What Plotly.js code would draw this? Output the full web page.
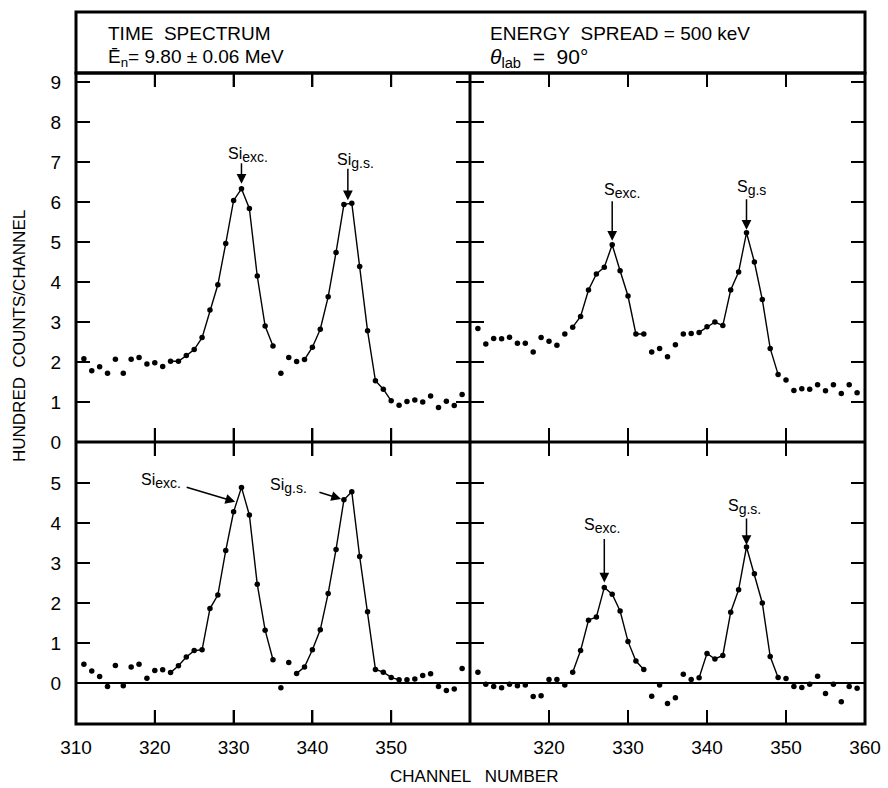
<!DOCTYPE html>
<html><head><meta charset="utf-8">
<script src="https://cdn.plot.ly/plotly-3.0.1.min.js"></script>
<style>html,body{margin:0;padding:0;background:#fff;} #chart{width:888px;height:788px;}</style>
</head><body><div id="chart"></div>
<script>
// ---- data (hundred counts per channel) ----
const channels = [311,312,313,314,315,316,317,318,319,320,321,322,323,324,325,326,327,328,329,330,
  331,332,333,334,335,336,337,338,339,340,341,342,343,344,345,346,347,348,349,350,
  351,352,353,354,355,356,357,358,359];
const siTotal = [2.08,1.78,1.88,1.72,2.07,1.72,2.07,2.11,1.95,1.98,
  1.89,2.02,2.02,2.16,2.31,2.61,3.30,3.93,4.96,6.04,
  6.33,5.84,4.15,2.90,2.40,1.72,2.11,2.01,2.06,2.37,
  2.82,3.63,4.74,5.94,5.97,4.39,2.78,1.53,1.32,1.03,
  0.92,1.01,1.05,1.00,1.15,0.86,1.02,0.91,1.19];
const sTotal = [2.84,2.45,2.59,2.58,2.62,2.47,2.47,2.25,2.61,2.52,
  2.42,2.70,2.87,3.14,3.80,4.20,4.37,4.93,4.28,3.65,
  2.70,2.70,2.25,2.34,2.13,2.43,2.70,2.71,2.74,2.88,
  3.00,2.91,3.80,4.25,5.23,4.50,3.56,2.34,1.69,1.55,
  1.29,1.33,1.32,1.43,1.28,1.43,1.21,1.43,1.23];
const siNet = [0.47,0.30,0.16,-0.09,0.44,-0.07,0.40,0.47,0.12,0.31,
  0.33,0.26,0.43,0.65,0.81,0.83,1.86,2.20,3.31,4.28,
  4.89,4.20,2.47,1.32,0.58,-0.12,0.51,0.24,0.40,0.83,
  1.33,2.24,3.34,4.58,4.78,3.16,1.78,0.34,0.27,0.14,
  0.08,0.08,0.10,0.19,0.23,-0.09,-0.19,-0.15,0.36];
const sNet = [0.27,-0.03,-0.09,-0.12,-0.03,-0.07,-0.05,-0.34,-0.32,0.09,
  0.09,-0.05,0.27,0.81,1.57,1.65,2.39,2.22,1.80,1.04,
  0.55,0.34,-0.33,-0.05,-0.51,-0.37,0.22,0.09,0.13,0.74,
  0.60,0.69,1.77,2.33,3.40,2.73,2.00,0.66,0.14,0.11,
  -0.09,-0.11,-0.03,0.17,-0.26,-0.03,-0.47,-0.09,-0.13];
// channel ranges joined by a drawn line
const siTotalSegments = [[322,335],[339,350]];
const sTotalSegments = [[323,332],[339,349]];
const siNetSegments = [[322,335],[338,351]];
const sNetSegments = [[323,332],[339,349]];
// tick labels
const xTickVals = [310,320,330,340,350,360];
const xTickTextLeft = ['310','320','330','340','350',''];
const xTickTextRight = ['','320','330','340','350','360'];
const yTickTop = [0,1,2,3,4,5,6,7,8,9];
const yTickBottom = [0,1,2,3,4,5];

// ---- helpers ----
const W = 888, H = 788;
const px = v => v / W;
const py = v => 1 - v / H;
const FONT = 'Liberation Sans, Arial, sans-serif';

function segLine(vals, segs) {
  return channels.map((c, i) => segs.some(s => c >= s[0] && c <= s[1]) ? vals[i] : null);
}
function peakIdx(vals, lo, hi) {
  let best = -1;
  channels.forEach((c, i) => { if (c >= lo && c <= hi && (best < 0 || vals[i] > vals[best])) best = i; });
  return best;
}

const panels = [
  {vals: siTotal, segs: siTotalSegments, xa: 'x', ya: 'y'},
  {vals: sTotal, segs: sTotalSegments, xa: 'x2', ya: 'y2'},
  {vals: siNet, segs: siNetSegments, xa: 'x3', ya: 'y3'},
  {vals: sNet, segs: sNetSegments, xa: 'x4', ya: 'y4'}
];
const traces = [];
panels.forEach(p => {
  traces.push({x: channels, y: segLine(p.vals, p.segs), xaxis: p.xa, yaxis: p.ya,
    mode: 'lines', connectgaps: false, line: {color: '#000', width: 1.4}, hoverinfo: 'skip'});
  traces.push({x: channels, y: p.vals, xaxis: p.xa, yaxis: p.ya,
    mode: 'markers', marker: {color: '#000', size: 5.5}, hoverinfo: 'skip'});
});

const axBase = {showline: false, mirror: 'ticks',
  ticks: 'inside', ticklen: 14, tickwidth: 2, tickcolor: 'black', showgrid: false,
  zeroline: false, tickfont: {family: FONT, size: 19, color: '#000'}, fixedrange: true};
const L = 76, M = 470, R = 865, T = 73, MID = 442, B = 724;
const xLeft = [px(L), px(M)], xRight = [px(M), px(R)];
const yTop = [py(MID), py(T)], yBot = [py(B), py(MID)];
const xRange = [310, 360], yRangeTop = [0, 9.225], yRangeBot = [-1.025, 6.025];

const layout = {
  width: W, height: H, margin: {l: 0, r: 0, t: 0, b: 0},
  paper_bgcolor: '#fff', plot_bgcolor: '#fff', showlegend: false,
  xaxis: Object.assign({}, axBase, {domain: xLeft, range: xRange, anchor: 'y',
    tickmode: 'array', tickvals: xTickVals, showticklabels: false}),
  xaxis2: Object.assign({}, axBase, {domain: xRight, range: xRange, anchor: 'y2',
    tickmode: 'array', tickvals: xTickVals, showticklabels: false}),
  xaxis3: Object.assign({}, axBase, {domain: xLeft, range: xRange, anchor: 'y3',
    tickmode: 'array', tickvals: xTickVals, ticktext: xTickTextLeft, ticklabelstandoff: 10}),
  xaxis4: Object.assign({}, axBase, {domain: xRight, range: xRange, anchor: 'y4',
    tickmode: 'array', tickvals: xTickVals, ticktext: xTickTextRight, ticklabelstandoff: 10}),
  yaxis: Object.assign({}, axBase, {domain: yTop, range: yRangeTop, anchor: 'x',
    tickmode: 'array', tickvals: yTickTop, ticklabelstandoff: 14}),
  yaxis2: Object.assign({}, axBase, {domain: yTop, range: yRangeTop, anchor: 'x2',
    tickmode: 'array', tickvals: yTickTop, showticklabels: false}),
  yaxis3: Object.assign({}, axBase, {domain: yBot, range: yRangeBot, anchor: 'x3',
    tickmode: 'array', tickvals: yTickBottom, ticklabelstandoff: 14,
    zeroline: true, zerolinecolor: '#000', zerolinewidth: 2}),
  yaxis4: Object.assign({}, axBase, {domain: yBot, range: yRangeBot, anchor: 'x4',
    tickmode: 'array', tickvals: yTickBottom, showticklabels: false,
    zeroline: true, zerolinecolor: '#000', zerolinewidth: 2}),
  shapes: [
    {type: 'rect', xref: 'paper', yref: 'paper', x0: px(L), x1: px(R), y0: py(T), y1: py(12),
     line: {color: '#000', width: 3}, fillcolor: 'rgba(0,0,0,0)'},
    {type: 'rect', xref: 'paper', yref: 'paper', x0: px(L), x1: px(R), y0: py(B), y1: py(T),
     line: {color: '#000', width: 3}, fillcolor: 'rgba(0,0,0,0)'},
    {type: 'line', xref: 'paper', yref: 'paper', x0: px(M), x1: px(M), y0: py(B), y1: py(T),
     line: {color: '#000', width: 3}},
    {type: 'line', xref: 'paper', yref: 'paper', x0: px(L), x1: px(R), y0: py(MID), y1: py(MID),
     line: {color: '#000', width: 3}}
  ],
  annotations: []
};

// inward tick marks on all four sides of every panel, placed through each panel's axes
const TICK = 14;
const panelAxes = [
  {xa: 'x', ya: 'y', xd: xLeft, yd: yTop, yr: yRangeTop, yt: yTickTop},
  {xa: 'x2', ya: 'y2', xd: xRight, yd: yTop, yr: yRangeTop, yt: yTickTop},
  {xa: 'x3', ya: 'y3', xd: xLeft, yd: yBot, yr: yRangeBot, yt: yTickBottom},
  {xa: 'x4', ya: 'y4', xd: xRight, yd: yBot, yr: yRangeBot, yt: yTickBottom}
];
panelAxes.forEach(p => {
  const wpx = (p.xd[1] - p.xd[0]) * W, hpx = (p.yd[1] - p.yd[0]) * H;
  const dx = TICK * (xRange[1] - xRange[0]) / wpx, dy = TICK * (p.yr[1] - p.yr[0]) / hpx;
  const ln = {color: '#000', width: 2};
  xTickVals.forEach(v => {
    if (v <= xRange[0] || v >= xRange[1]) return;
    layout.shapes.push({type: 'line', xref: p.xa, yref: p.ya, x0: v, x1: v, y0: p.yr[0], y1: p.yr[0] + dy, line: ln});
    layout.shapes.push({type: 'line', xref: p.xa, yref: p.ya, x0: v, x1: v, y0: p.yr[1] - dy, y1: p.yr[1], line: ln});
  });
  p.yt.forEach(v => {
    if (v <= p.yr[0] || v >= p.yr[1]) return;
    layout.shapes.push({type: 'line', xref: p.xa, yref: p.ya, x0: xRange[0], x1: xRange[0] + dx, y0: v, y1: v, line: ln});
    layout.shapes.push({type: 'line', xref: p.xa, yref: p.ya, x0: xRange[1] - dx, x1: xRange[1], y0: v, y1: v, line: ln});
  });
});

const A = layout.annotations;
function txt(text, x, y, size, opts) {
  A.push(Object.assign({text: text, xref: 'paper', yref: 'paper', x: px(x), y: py(y),
    xanchor: 'left', yanchor: 'middle', showarrow: false,
    font: {family: FONT, size: size, color: '#000'}}, opts || {}));
}
function arrow(xref, yref, x, y, ax, ay, standoff) {
  A.push({text: '', xref: xref, yref: yref, x: x, y: y, ax: ax, ay: ay, showarrow: true,
    arrowhead: 2, arrowsize: 1.3, arrowwidth: 1.5, arrowcolor: '#000', standoff: standoff});
}

// header
txt('TIME  SPECTRUM', 106, 33, 19);
txt('Ē<sub>n</sub>= 9.80 ± 0.06 MeV', 106, 58, 19);
txt('ENERGY  SPREAD = 500 keV', 488, 33, 19);
txt('<i>θ</i><sub>lab</sub>  =  90°', 488, 58, 21);
// axis titles
A.push({text: 'HUNDRED  COUNTS/CHANNEL', xref: 'paper', yref: 'paper', x: px(20), y: py(336),
  xanchor: 'center', yanchor: 'middle', textangle: -90, showarrow: false,
  font: {family: FONT, size: 17, color: '#000'}});
A.push({text: 'CHANNEL   NUMBER', xref: 'paper', yref: 'paper', x: px(474), y: py(776),
  xanchor: 'center', yanchor: 'middle', showarrow: false,
  font: {family: FONT, size: 17, color: '#000'}});

// peak labels
const sub = s => '<sub><span style="font-size:14px">' + s + '</span></sub>';
txt('Si' + sub('exc.'), 226, 155, 16);
txt('Si' + sub('g.s.'), 335, 161, 16);
txt('S' + sub('exc.'), 602, 191, 16);
txt('S' + sub('g.s'), 735, 188, 16);
txt('Si' + sub('exc.'), 139, 481, 16);
txt('Si' + sub('g.s.'), 268, 486, 16);
txt('S' + sub('exc.'), 582, 526, 16);
txt('S' + sub('g.s.'), 726, 507, 16);

// arrows pointing at peaks
let i;
i = peakIdx(siTotal, 322, 335); arrow('x', 'y', channels[i], siTotal[i], 0, -27, 5);
i = peakIdx(siTotal, 339, 350); arrow('x', 'y', channels[i] - 0.5, siTotal[i], 0, -36, 3);
i = peakIdx(sTotal, 323, 332); arrow('x2', 'y2', channels[i], sTotal[i], 0, -45, 4);
i = peakIdx(sTotal, 339, 349); arrow('x2', 'y2', channels[i], sTotal[i], 0, -35, 3);
i = peakIdx(siNet, 322, 335); arrow('x3', 'y3', channels[i] - 0.8, siNet[i] - 0.36, -50, -15, 0);
i = peakIdx(siNet, 338, 351); arrow('x3', 'y3', channels[i - 1], siNet[i - 1], -26, -8, 3);
i = peakIdx(sNet, 323, 332); arrow('x4', 'y4', channels[i], sNet[i], 0, -50, 5);
i = peakIdx(sNet, 339, 349); arrow('x4', 'y4', channels[i], sNet[i], 0, -30, 2);

Plotly.newPlot('chart', traces, layout, {displayModeBar: false, staticPlot: true});
</script></body></html>
